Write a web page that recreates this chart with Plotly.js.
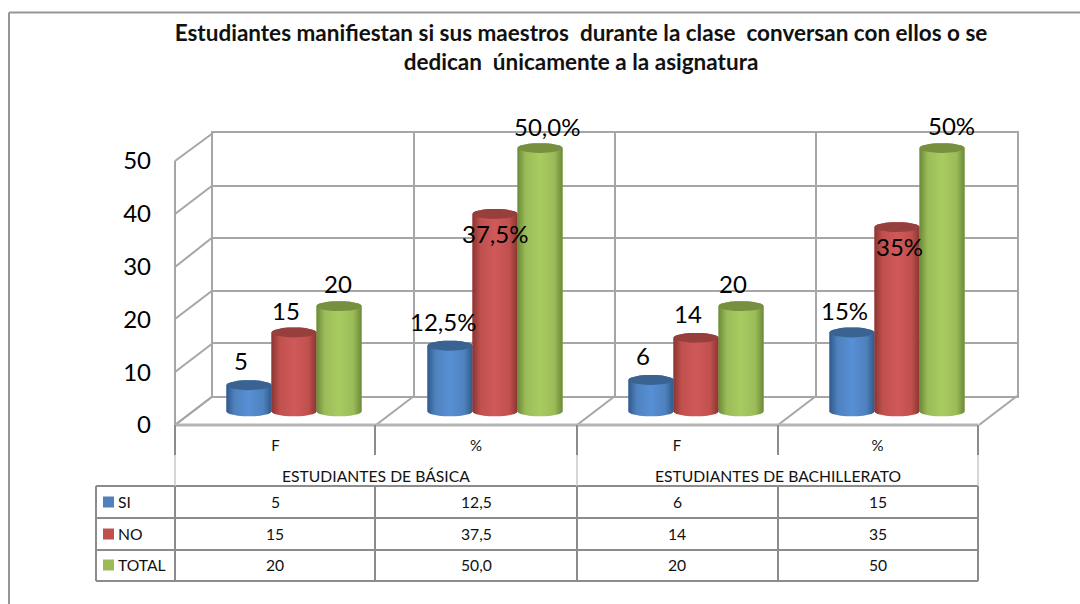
<!DOCTYPE html>
<html><head><meta charset="utf-8">
<script src="https://cdn.plot.ly/plotly-3.0.1.min.js"></script>
<style>html,body{margin:0;padding:0;background:#fff}#c{width:1080px;height:604px}</style>
</head><body><div id="c"></div>
<script>
const groups = ["F","%","F","%"];
const headers = ["ESTUDIANTES DE BÁSICA","ESTUDIANTES DE BACHILLERATO"];
const seriesNames = ["SI","NO","TOTAL"];
const si = [5,12.5,6,15];
const no = [15,37.5,14,35];
const total = [20,50,20,50];
const siCells = ["5","12,5","6","15"];
const noCells = ["15","37,5","14","35"];
const totalCells = ["20","50,0","20","50"];
const siLabels = ["5","12,5%","6","15%"];
const noLabels = ["15","37,5%","14","35%"];
const totalLabels = ["20","50,0%","20","50%"];
const titleLine1 = "Estudiantes manifiestan si sus maestros  durante la clase  conversan con ellos o se";
const titleLine2 = "dedican  únicamente a la asignatura";

// styling
const FONT = "Lato, 'Noto Sans', sans-serif";
const W = 1080, H = 604;
const px = x => x / W, py = y => 1 - y / H;
const GRID = "#a6a6a6", TBL = "#8c8c8c";
const xs = [0,1,2,3];
const seriesVals = [si, no, total];
const cells = [siCells, noCells, totalCells];
const labels = [siLabels, noLabels, totalLabels];
const flat = ["#4f81bd","#c0504d","#9bbb59"];
const edge = ["#2f5a8c","#8a3532","#6b8a38"];
const mid = ["#5790d6","#d0595a","#a8cc60"];
const cap = ["#3a6392","#963f3d","#76903f"];
const barStep = 0.224, halfW = 0.112, capH = 0.95;
// label pixel shifts relative to the bar top (dx, dy)
const shifts = [
 [[-8,25],[-7,24],[-8,24],[-7,22]],
 [[-8,22],[0,-20],[-8,24],[2,-19]],
 [[-1,23],[7,22],[-8,23],[9,23]]
];

const traces = [];
// empty traces that bring the wall and front axes to life
traces.push({type:"scatter",x:[],y:[],xaxis:"x",yaxis:"y",showlegend:false,hoverinfo:"skip"});
traces.push({type:"scatter",x:[],y:[],xaxis:"x2",yaxis:"y2",showlegend:false,hoverinfo:"skip"});
seriesVals.forEach((vals,i)=>{
  traces.push({type:"bar",name:seriesNames[i],x:xs,y:vals,xaxis:"x3",yaxis:"y3",
    marker:{color:flat[i]},showlegend:false});
});
function cyl(xc,v){
  const X=[],Y=[];
  for(let a=180;a>=0;a-=15){X.push(xc+halfW*Math.cos(a*Math.PI/180));Y.push(v+capH*Math.sin(a*Math.PI/180));}
  for(let a=0;a>=-180;a-=15){X.push(xc+halfW*Math.cos(a*Math.PI/180));Y.push(capH*Math.sin(a*Math.PI/180));}
  X.push(X[0]);Y.push(Y[0]);
  return {X,Y};
}
function ell(xc,v){
  const X=[],Y=[];
  for(let a=0;a<=360;a+=15){X.push(xc+halfW*Math.cos(a*Math.PI/180));Y.push(v+capH*Math.sin(a*Math.PI/180));}
  return {X,Y};
}
xs.forEach(k=>{
  seriesVals.forEach((vals,i)=>{
    const xc=k+(i-1)*barStep, b=cyl(xc,vals[k]), c=ell(xc,vals[k]);
    traces.push({type:"scatter",mode:"lines",x:b.X,y:b.Y,xaxis:"x3",yaxis:"y3",fill:"toself",line:{width:0},
      fillcolor:flat[i],
      fillgradient:{type:"horizontal",colorscale:[[0,edge[i]],[0.18,flat[i]],[0.5,mid[i]],[0.82,flat[i]],[1,edge[i]]]},
      showlegend:false,hoverinfo:"skip"});
    traces.push({type:"scatter",mode:"lines",x:c.X,y:c.Y,xaxis:"x3",yaxis:"y3",fill:"toself",line:{width:0},
      fillcolor:cap[i],showlegend:false,hoverinfo:"skip"});
  });
});

const shapes=[];
const line=(x0,y0,x1,y1,color,width,layer)=>shapes.push({type:"line",xref:"paper",yref:"paper",
  x0:px(x0),y0:py(y0),x1:px(x1),y1:py(y1),line:{color:color,width:width},layer:layer||"above"});
// outer frame
line(9,12.5,1080,12.5,"#969696",2);
line(9,12.5,9,604,"#969696",2);
// side wall and floor
const wallY=[133,185,237,290,343,396], sideY=[161,214,267,319,372,425];
wallY.forEach((y,i)=>line(175,sideY[i],213,y,GRID,2,"below"));
line(175,161,175,425,GRID,2,"below");
[213,414,615,816,1017].forEach(x=>line(x-38,425,x,396,GRID,2,"below"));
line(175,425,978,425,"#b5b5b5",3,"below");
// table grid
[486,518,550,581].forEach(y=>line(96,y,978,y,TBL,2));
line(96,486,96,581,TBL,2);
[175,577,978].forEach(x=>{line(x,425,x,455,TBL,2);line(x,455,x,486,"#c8c8c8",1.5);line(x,486,x,581,TBL,2);});
[375,778].forEach(x=>{line(x,425,x,455,TBL,2);line(x,486,x,581,TBL,2);});

const ann=[];
const text=(x,y,t,size,anchor)=>ann.push({xref:"paper",yref:"paper",x:px(x),y:py(y),text:t,showarrow:false,
  xanchor:anchor||"center",yanchor:"middle",font:{family:FONT,size:size,color:"#111"}});
text(375.5,476,headers[0],15.7);
text(777.5,476,headers[1],15.7);
const rowY=[502,534,565];
const colX=[275,476,677,878];
seriesNames.forEach((n,r)=>{
  text(116,rowY[r],n,15.7,"left");
  shapes.push({type:"rect",xref:"paper",yref:"paper",x0:px(103),x1:px(114),y0:py(rowY[r]-5.5),y1:py(rowY[r]+5.5),
    fillcolor:flat[r],line:{width:0},layer:"above"});
  cells[r].forEach((c,k)=>text(colX[k],rowY[r],c,15.7));
  labels[r].forEach((t,k)=>ann.push({xref:"x3",yref:"y3",x:xs[k]+(r-1)*barStep,y:seriesVals[r][k],text:t,showarrow:false,
    xanchor:"center",yanchor:"middle",xshift:shifts[r][k][0],yshift:shifts[r][k][1],
    font:{family:FONT,size:24,color:"#000"}}));
});

const pxPerUnit = (411.5-148)/50, pad = 4;
const layout={
  width:W,height:H,margin:{l:0,r:0,t:0,b:0},paper_bgcolor:"#fff",plot_bgcolor:"rgba(0,0,0,0)",
  showlegend:false,barmode:"group",bargap:0.328,bargroupgap:0,
  font:{family:FONT,color:"#111"},
  title:{text:titleLine1+"<br>"+titleLine2,x:581/W,xanchor:"center",y:py(40.5),yanchor:"middle",yref:"paper",
    font:{family:FONT,size:22.5,weight:700,color:"#111"}},
  // back wall
  xaxis:{domain:[px(213),px(1017)],range:[0,4],anchor:"y",tickvals:[0,1,2,3,4],showticklabels:false,ticks:"",showgrid:true,gridcolor:GRID,gridwidth:2,zeroline:false,showline:true,mirror:true,linecolor:GRID,linewidth:2},
  yaxis:{domain:[py(396),py(133)],range:[0,50],anchor:"x",dtick:10,showticklabels:false,ticks:"",showgrid:true,gridcolor:GRID,gridwidth:2,zeroline:false,showline:true,mirror:true,linecolor:GRID,linewidth:2},
  // front axis
  xaxis2:{domain:[px(175),px(978)],range:[-0.5,3.5],anchor:"y2",tickvals:xs,ticktext:groups,ticks:"",ticklabelstandoff:10,showgrid:false,zeroline:false,showline:false,tickfont:{family:FONT,size:15,color:"#111"}},
  yaxis2:{domain:[py(425),py(161)],range:[0,50],anchor:"x2",dtick:10,ticks:"",ticklabelstandoff:23,showgrid:false,zeroline:false,showline:false,tickfont:{family:FONT,size:24,color:"#000"}},
  // bars: the axis range has a little padding so the round ends of the cylinders are not cut
  xaxis3:{domain:[px(193.5),px(997.5)],range:[-0.5,3.5],anchor:"y3",visible:false},
  yaxis3:{domain:[py(411.5+pad*pxPerUnit),py(148-pad*pxPerUnit)],range:[-pad,50+pad],anchor:"x3",visible:false},
  shapes:shapes,annotations:ann
};
Plotly.newPlot("c",traces,layout,{displayModeBar:false,staticPlot:true});
</script></body></html>
